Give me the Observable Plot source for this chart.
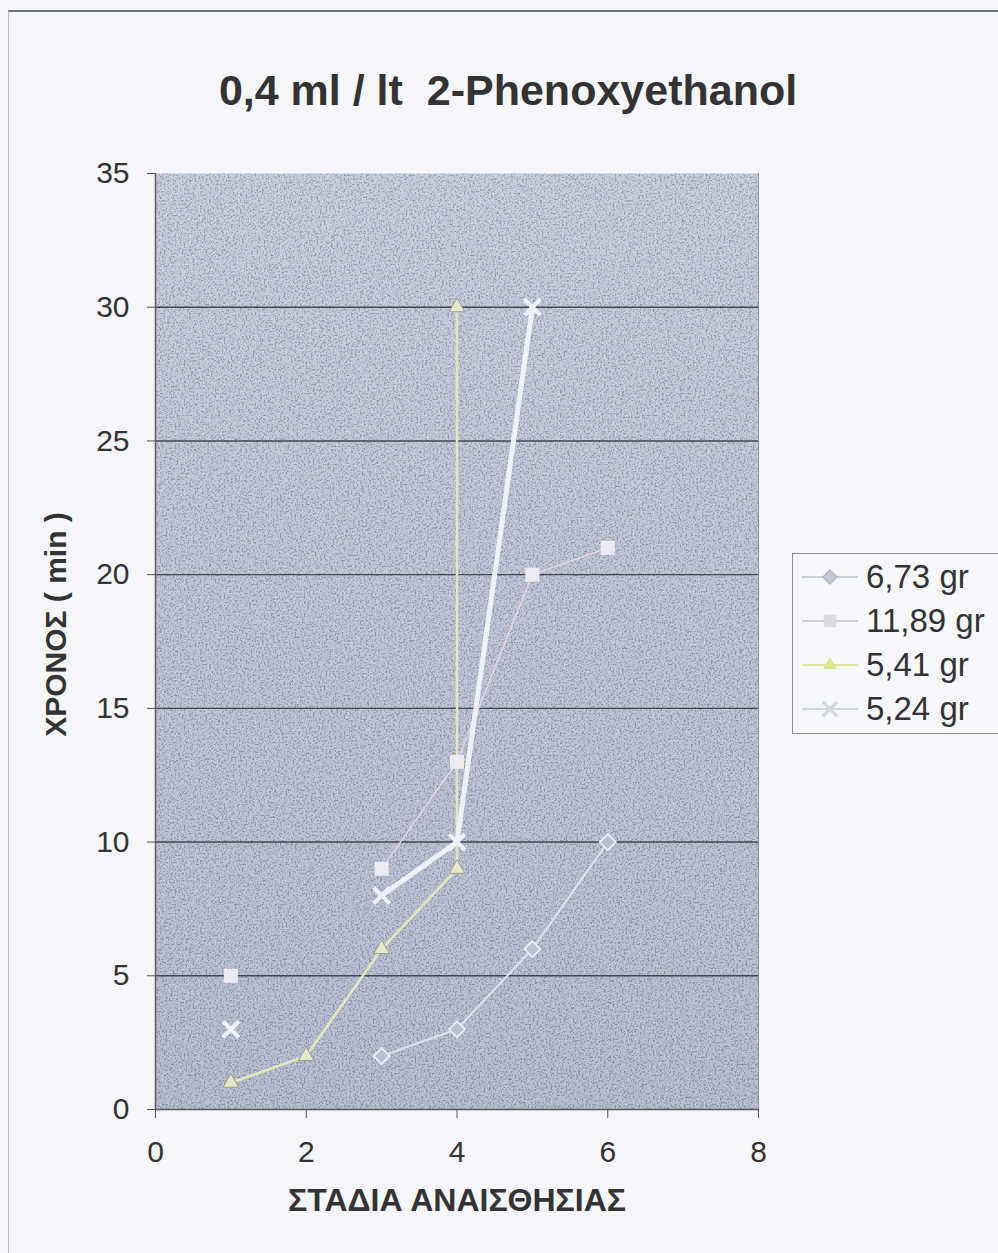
<!DOCTYPE html>
<html>
<head>
<meta charset="utf-8">
<script src="https://cdn.jsdelivr.net/npm/d3@7"></script>
<script src="https://cdn.jsdelivr.net/npm/@observablehq/plot@0.6"></script>
<style>
  html, body { margin: 0; padding: 0; background: #f4f6fa; }
  #wrap { position: relative; width: 998px; height: 1253px; overflow: hidden; font-family: "Liberation Sans", Arial, sans-serif; }
  #border { position: absolute; left: 8px; top: 10px; width: 1000px; height: 1250px; border-top: 2px solid #6f7278; border-left: 1px solid #b8bcc6; }
  #legend { position: absolute; left: 792px; top: 553px; width: 220px; height: 179px; border: 1.5px solid #8c8e94; background: #f6f7fa; }
  .row { position: absolute; left: 0; height: 44px; display: flex; align-items: center; }
  .row span { font-size: 33px; color: #333; margin-left: 1px; white-space: nowrap; }
</style>
</head>
<body>
<div id="wrap">
  <div id="border"></div>
  <div id="chart"></div>
  <div id="legend"></div>
</div>
<script>
// ---- data ----
const xTicks = [0, 2, 4, 6, 8];
const yTicks = [0, 5, 10, 15, 20, 25, 30, 35];
const gridLines = [5, 10, 15, 20, 25, 30];
const seriesNames = ["6,73 gr", "11,89 gr", "5,41 gr", "5,24 gr"];
const stages = [1, 2, 3, 4, 5, 6];
const w673 = [NaN, NaN, 2, 3, 6, 10];
const w1189 = [5, NaN, 9, 13, 20, 21];
const w541Stages = [1, 2, 3, 4, 4];
const w541 = [1, 2, 6, 9, 30];
const w524 = [3, NaN, 8, 10, 30, NaN];

// ---- styles ----
const styles = [
  {line: "#dde1ec", lw: 2, symbol: "diamond2", r: 7.2, fill: "#b8c0d2", stroke: "#eceff5", sw: 1.8},
  {line: "#e6d3e3", lw: 1.5, symbol: "square", r: 7.9, fill: "#ecebf2", stroke: "none", sw: 0},
  {line: "#e2e6bb", lw: 2.5, symbol: "triangle", r: 5.8, fill: "#e6e8cb", stroke: "#9ea087", sw: 1},
  {line: "#eef1f8", lw: 5, symbol: "times", r: 7.3, fill: "none", stroke: "#eef1f8", sw: 4}
];

const toRows = (xs, ys) => xs.map((x, i) => ({x, y: ys[i]}));
const data = [
  toRows(stages, w673),
  toRows(stages, w1189),
  toRows(w541Stages, w541),
  toRows(stages, w524)
];

const seriesMarks = [];
data.forEach((rows, i) => {
  const s = styles[i];
  seriesMarks.push(Plot.line(rows, {x: "x", y: "y", stroke: s.line, strokeWidth: s.lw, strokeLinejoin: "round"}));
});
data.forEach((rows, i) => {
  const s = styles[i];
  seriesMarks.push(Plot.dot(rows.filter(d => Number.isFinite(d.y)), {
    x: "x", y: "y", symbol: s.symbol, r: s.r, fill: s.fill, stroke: s.stroke, strokeWidth: s.sw
  }));
});

const chart = Plot.plot({
  width: 998,
  height: 1253,
  marginLeft: 155,
  marginRight: 240,
  marginTop: 173,
  marginBottom: 144,
  x: {domain: [0, 8]},
  y: {domain: [0, 35]},
  style: {fontFamily: '"Liberation Sans", Arial, sans-serif', fontSize: "30px", color: "#333", background: "transparent", overflow: "visible"},
  marks: [
    Plot.frame({fill: "url(#bgGrad)"}),
    Plot.frame({fill: "#808080"}),
    Plot.ruleY(gridLines, {stroke: "#353a46", strokeWidth: 1.4, strokeOpacity: 0.9}),
    Plot.ruleX([8], {stroke: "#8a92a4", strokeWidth: 1}),
    Plot.ruleY([0], {stroke: "#555a62", strokeWidth: 1.6}),
    Plot.ruleX([0], {stroke: "#6b5555", strokeWidth: 1.5}),
    Plot.axisX({ticks: xTicks, tickSize: 9, tickPadding: 22, label: null, stroke: "#555"}),
    Plot.axisY({ticks: yTicks, tickSize: 8, tickPadding: 18, label: null, stroke: "#555"}),
    ...seriesMarks,
    Plot.text(["0,4 ml / lt \u00a02-Phenoxyethanol"], {text: d => d, frameAnchor: "top", dx: 51, dy: -99, fontSize: 43, fontWeight: "bold", fill: "#333"}),
    Plot.text(["ΣΤΑΔΙΑ ΑΝΑΙΣΘΗΣΙΑΣ"], {text: d => d, frameAnchor: "bottom", dy: 101, fontSize: 32, fontWeight: "bold", fill: "#333"}),
    Plot.text(["ΧΡΟΝΟΣ ( min )"], {text: d => d, frameAnchor: "left", textAnchor: "middle", dx: -99, dy: -17, rotate: -90, fontSize: 30, fontWeight: "bold", fill: "#333"})
  ]
});

// defs: background gradient + scan noise
const svg = d3.select(chart);
const defs = svg.insert("defs", ":first-child");
const grad = defs.append("linearGradient").attr("id", "bgGrad").attr("x1", 0).attr("y1", 0).attr("x2", 0).attr("y2", 1);
grad.append("stop").attr("offset", "0%").attr("stop-color", "#c0c8da");
grad.append("stop").attr("offset", "100%").attr("stop-color", "#aeb6ca");
const f = defs.append("filter").attr("id", "noise").attr("x", 0).attr("y", 0).attr("width", "100%").attr("height", "100%");
f.append("feTurbulence").attr("type", "fractalNoise").attr("baseFrequency", 0.55).attr("numOctaves", 3).attr("seed", 4).attr("result", "t");
f.append("feColorMatrix").attr("in", "t").attr("type", "matrix")
  .attr("values", "3 0 0 0 -1  3 0 0 0 -1  3 0 0 0 -0.95  0 0 0 0 0.2").attr("result", "n");
f.append("feComposite").attr("in", "n").attr("in2", "SourceGraphic").attr("operator", "in");
const frameEls = svg.selectAll('[aria-label="frame"]').nodes();
if (frameEls[1]) {
  const el = d3.select(frameEls[1]);
  if (el.node().tagName.toLowerCase() === "rect") el.attr("filter", "url(#noise)");
  else el.selectAll("rect").attr("filter", "url(#noise)");
}
document.getElementById("chart").appendChild(chart);
chart.style.position = "absolute";
chart.style.left = "0";
chart.style.top = "0";

// legend
const legend = d3.select("#legend");
const symMap = {diamond2: d3.symbolDiamond2, square: d3.symbolSquare, triangle: d3.symbolTriangle, times: d3.symbolTimes};
const legLine = ["#c9cedc", "#dccbdb", "#dfe59a", "#cfd6e4"];
const legSym = ["#c3c8d6", "#d9d8e3", "#dde58f", "#cfd6e4"];
seriesNames.forEach((name, i) => {
  const s = styles[i];
  const row = legend.append("div").attr("class", "row").style("top", (1 + i * 44) + "px");
  const sv = row.append("svg").attr("width", 72).attr("height", 44);
  sv.append("line").attr("x1", 9).attr("x2", 65).attr("y1", 22).attr("y2", 22)
    .attr("stroke", legLine[i]).attr("stroke-width", 2);
  const isStroke = s.symbol === "times";
  sv.append("path").attr("transform", "translate(37,22)")
    .attr("d", d3.symbol(symMap[s.symbol], Math.PI * s.r * s.r * 0.8)())
    .attr("fill", isStroke ? "none" : legSym[i])
    .attr("stroke", isStroke ? legSym[i] : (i === 0 ? "#b0b6c6" : "none"))
    .attr("stroke-width", isStroke ? 3.5 : 1.2);
  row.append("span").text(name);
});
</script>
</body>
</html>
